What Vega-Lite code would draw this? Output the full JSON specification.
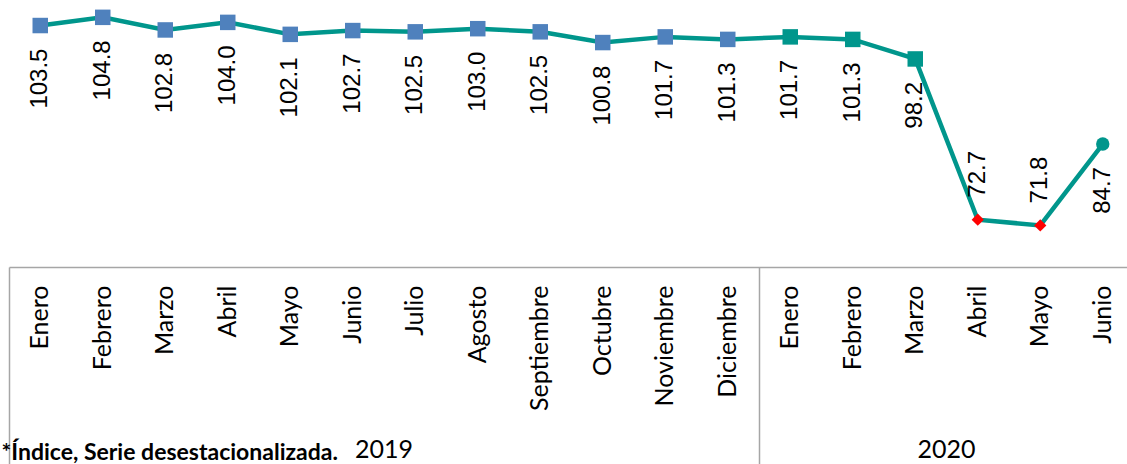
{
  "$schema": "https://vega.github.io/schema/vega-lite/v6.json",
  "width": 1125,
  "height": 267,
  "autosize": {"type": "none"},
  "padding": {"left": 9, "top": 0, "right": 0, "bottom": 197},
  "background": "white",
  "config": {"view": {"stroke": null}},
  "data": {
    "values": [
      {"fecha": "2019-01", "valor": 103.5},
      {"fecha": "2019-02", "valor": 104.8},
      {"fecha": "2019-03", "valor": 102.8},
      {"fecha": "2019-04", "valor": 104.0},
      {"fecha": "2019-05", "valor": 102.1},
      {"fecha": "2019-06", "valor": 102.7},
      {"fecha": "2019-07", "valor": 102.5},
      {"fecha": "2019-08", "valor": 103.0},
      {"fecha": "2019-09", "valor": 102.5},
      {"fecha": "2019-10", "valor": 100.8},
      {"fecha": "2019-11", "valor": 101.7},
      {"fecha": "2019-12", "valor": 101.3},
      {"fecha": "2020-01", "valor": 101.7},
      {"fecha": "2020-02", "valor": 101.3},
      {"fecha": "2020-03", "valor": 98.2},
      {"fecha": "2020-04", "valor": 72.7},
      {"fecha": "2020-05", "valor": 71.8},
      {"fecha": "2020-06", "valor": 84.7}
    ]
  },
  "layer": [
    {
      "encoding": {
        "x": {
          "field": "fecha",
          "type": "ordinal",
          "sort": null,
          "scale": {"type": "band", "paddingInner": 0, "paddingOuter": 0},
          "axis": {
            "orient": "bottom",
            "title": null,
            "ticks": false,
            "grid": false,
            "domainColor": "#a6a6a6",
            "domainWidth": 1.5,
            "labelExpr": "['Enero','Febrero','Marzo','Abril','Mayo','Junio','Julio','Agosto','Septiembre','Octubre','Noviembre','Diciembre'][toNumber(substring(datum.value,5,7))-1]",
            "labelAngle": 270,
            "labelAlign": "right",
            "labelBaseline": "middle",
            "labelFont": "Lato",
            "labelFontSize": 25,
            "labelColor": "#000000",
            "labelPadding": 18,
            "labelOverlap": false
          }
        },
        "y": {
          "field": "valor",
          "type": "quantitative",
          "scale": {"domain": [65.2, 107.55], "nice": false, "zero": false},
          "axis": null
        }
      },
      "layer": [
        {"mark": {"type": "line", "color": "#00968c", "strokeWidth": 4.5}},
        {
          "transform": [{"filter": "substring(datum.fecha,0,4) == '2019'"}],
          "mark": {"type": "point", "shape": "square", "filled": true, "opacity": 1, "color": "#4f81bd", "size": 240}
        },
        {
          "transform": [{"filter": "datum.fecha >= '2020-01' && datum.fecha <= '2020-03'"}],
          "mark": {"type": "point", "shape": "square", "filled": true, "opacity": 1, "color": "#00968c", "size": 240}
        },
        {
          "transform": [{"filter": "datum.valor < 80"}],
          "mark": {"type": "point", "shape": "diamond", "filled": true, "opacity": 1, "color": "#ff0000", "size": 150}
        },
        {
          "transform": [{"filter": "datum.fecha == '2020-06'"}],
          "mark": {"type": "point", "shape": "circle", "filled": true, "opacity": 1, "color": "#00968c", "size": 180}
        },
        {
          "transform": [{"filter": "datum.valor >= 80"}],
          "mark": {"type": "text", "angle": 270, "align": "right", "baseline": "middle", "dx": -23, "font": "Liberation Sans", "fontSize": 24, "color": "#000000"},
          "encoding": {"text": {"field": "valor", "type": "quantitative", "format": ".1f"}}
        },
        {
          "transform": [{"filter": "datum.valor < 80"}],
          "mark": {"type": "text", "angle": 270, "align": "left", "baseline": "middle", "dx": 22, "font": "Liberation Sans", "fontSize": 24, "color": "#000000"},
          "encoding": {"text": {"field": "valor", "type": "quantitative", "format": ".1f"}}
        }
      ]
    },
    {
      "mark": {"type": "point", "opacity": 0},
      "encoding": {
        "x": {
          "field": "fecha",
          "type": "ordinal",
          "sort": null,
          "scale": {"type": "band", "paddingInner": 0, "paddingOuter": 0},
          "axis": {
            "orient": "bottom",
            "title": null,
            "values": ["2019-07", "2020-04"],
            "ticks": false,
            "domain": false,
            "grid": false,
            "labelExpr": "substring(datum.value,0,4)",
            "labelAngle": 0,
            "labelAlign": "center",
            "labelBaseline": "top",
            "labelOffset": -31.25,
            "labelFont": "Lato",
            "labelFontSize": 25,
            "labelColor": "#000000",
            "labelPadding": 170,
            "labelOverlap": false
          }
        }
      }
    },
    {
      "mark": {"type": "point", "opacity": 0},
      "encoding": {
        "x": {
          "field": "fecha",
          "type": "ordinal",
          "sort": null,
          "scale": {"type": "band", "paddingInner": 0, "paddingOuter": 0},
          "axis": {
            "orient": "bottom",
            "values": ["2019-01", "2020-01"],
            "bandPosition": 0,
            "ticks": true,
            "tickSize": 200,
            "tickColor": "#a6a6a6",
            "tickWidth": 1.5,
            "labels": false,
            "domain": false,
            "grid": false,
            "title": "*Índice, Serie desestacionalizada.",
            "titleFont": "Lato",
            "titleFontSize": 23,
            "titleFontWeight": "bold",
            "titleColor": "#000000",
            "titleAngle": 0,
            "titleAlign": "left",
            "titleBaseline": "alphabetic",
            "titleX": -8,
            "titleY": 192
          }
        }
      }
    }
  ],
  "resolve": {"scale": {"x": "independent"}, "axis": {"x": "independent"}}
}
